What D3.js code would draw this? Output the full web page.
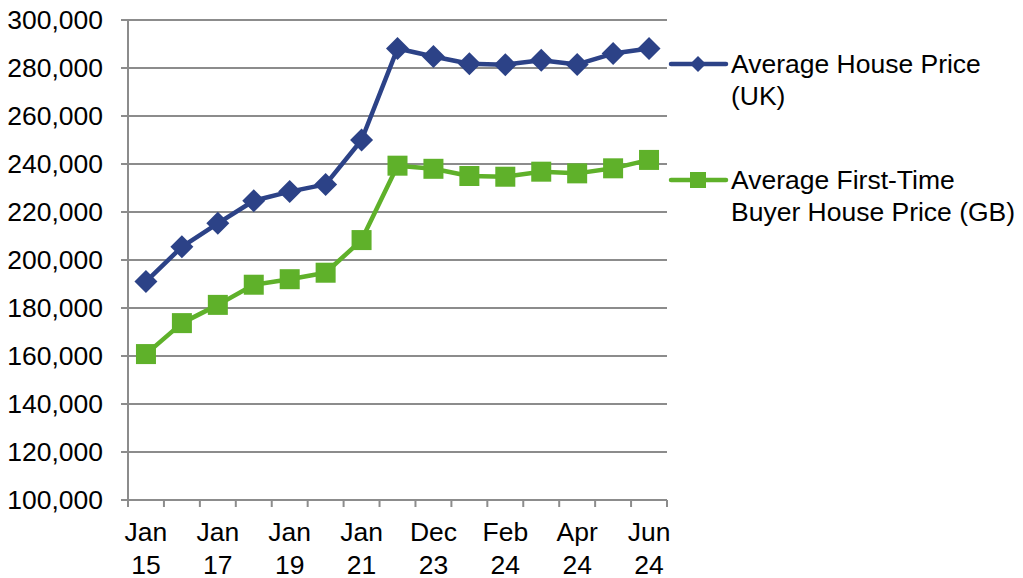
<!DOCTYPE html>
<html><head><meta charset="utf-8">
<script src="https://cdn.jsdelivr.net/npm/d3@7"></script>
<style>body{margin:0;background:#fff;} text{font-family:"Liberation Sans",Arial,sans-serif;fill:#000;}</style>
</head><body>
<svg id="chart" width="1023" height="578"></svg>
<script>
const categories = ["Jan 15","Jan 16","Jan 17","Jan 18","Jan 19","Jan 20","Jan 21","Nov 23","Dec 23","Jan 24","Feb 24","Mar 24","Apr 24","May 24","Jun 24"];
const shownLabels = ["Jan 15","Jan 17","Jan 19","Jan 21","Dec 23","Feb 24","Apr 24","Jun 24"];
const avgUK = [191000,205500,215300,224700,228500,231500,250000,288100,284800,281800,281400,283200,281500,286000,288100];
const avgFTB = [160800,173700,181300,189700,192000,194700,208300,239300,238000,235000,234700,236800,236100,238200,241700];
const yTicks = [100000,120000,140000,160000,180000,200000,220000,240000,260000,280000,300000];
const seriesNames = [["Average House Price","(UK)"],["Average First-Time","Buyer House Price (GB)"]];
const colors = ["#2C4287","#5FB12A"];

const svg = d3.select("#chart");
const L=128, R=667, T=20, B=500;
const FS=25, SX=1.06;
const x = d3.scaleBand().domain(categories).range([L,R]);
const y = d3.scaleLinear().domain([100000,300000]).range([B,T]);
const grid="#8C8C8C";

function label(parent, tx, ty, anchor, txt){
  return parent.append("text").attr("transform",`translate(${tx},${ty}) scale(${SX},1)`)
    .attr("text-anchor",anchor).attr("font-size",FS).text(txt);
}

svg.append("g").selectAll("line").data(yTicks).join("line")
  .attr("x1",L-7).attr("x2",R).attr("y1",d=>y(d)).attr("y2",d=>y(d))
  .attr("stroke",grid).attr("stroke-width",2);
svg.append("line").attr("x1",L).attr("x2",L).attr("y1",T).attr("y2",B+1).attr("stroke",grid).attr("stroke-width",2);
const fmt = d3.format(",");
const gy = svg.append("g");
yTicks.forEach(d=>label(gy,103,y(d)+9,"end",fmt(d)));
const bounds = categories.map(c=>x(c)).concat([R]);
svg.append("g").selectAll("line").data(bounds).join("line")
  .attr("x1",d=>d).attr("x2",d=>d).attr("y1",B).attr("y2",B+7)
  .attr("stroke",grid).attr("stroke-width",2);
const gx = svg.append("g");
shownLabels.forEach(d=>{
  const px = x(d)+x.bandwidth()/2;
  label(gx,px,541,"middle",d.split(" ")[0]);
  label(gx,px,574,"middle",d.split(" ")[1]);
});

const cx = c=>x(c)+x.bandwidth()/2;
const line = d3.line().x((d,i)=>cx(categories[i])).y(d=>y(d));
[avgUK,avgFTB].forEach((s,k)=>{
  svg.append("path").datum(s).attr("d",line).attr("fill","none")
    .attr("stroke",colors[k]).attr("stroke-width",4.5).attr("stroke-linejoin","round");
});
svg.append("g").selectAll("path").data(avgUK).join("path")
  .attr("transform",(d,i)=>`translate(${cx(categories[i])},${y(d)})`)
  .attr("d","M0,-11.5L11.5,0L0,11.5L-11.5,0Z").attr("fill",colors[0]);
svg.append("g").selectAll("rect").data(avgFTB).join("rect")
  .attr("x",(d,i)=>cx(categories[i])-10).attr("y",d=>y(d)-10)
  .attr("width",20).attr("height",20).attr("fill",colors[1]);

const legY=[64,180];
seriesNames.forEach((n,k)=>{
  const g=svg.append("g");
  g.append("line").attr("x1",671).attr("x2",726).attr("y1",legY[k]).attr("y2",legY[k])
    .attr("stroke",colors[k]).attr("stroke-width",4.5).attr("stroke-linecap","round");
  if(k===0) g.append("path").attr("transform",`translate(698,${legY[k]})`).attr("d","M0,-8L8,0L0,8L-8,0Z").attr("fill",colors[0]);
  else g.append("rect").attr("x",690).attr("y",legY[k]-8).attr("width",16).attr("height",16).attr("fill",colors[1]);
  n.forEach((t,j)=>label(g,731,legY[k]+9+j*32,"start",t));
});
</script>
</body></html>
